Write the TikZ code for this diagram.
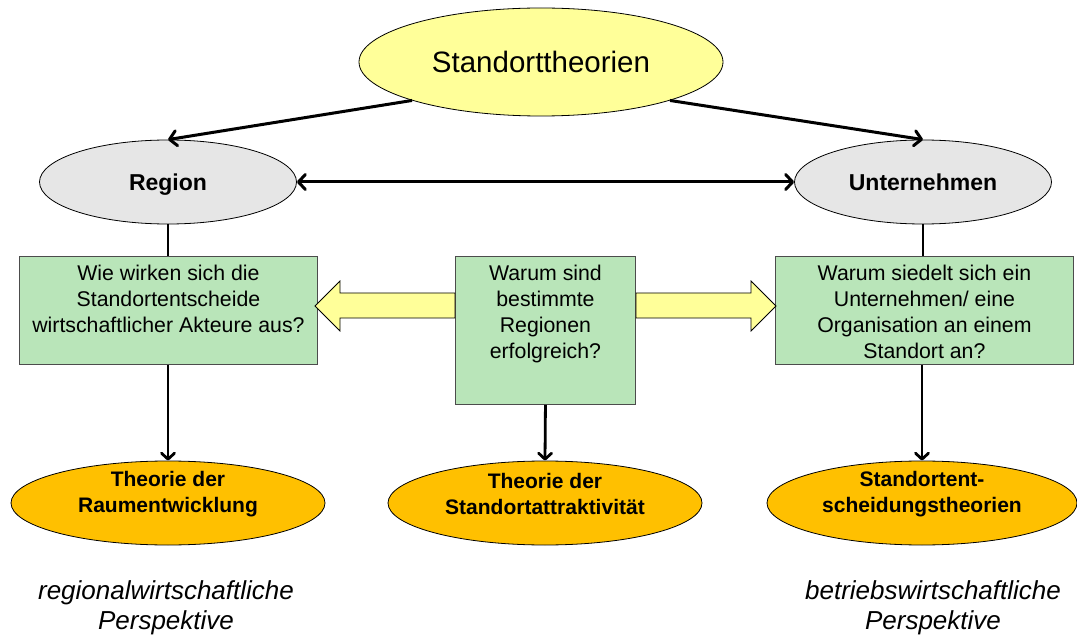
\documentclass[tikz,border=0pt]{standalone}
\usepackage{fontspec}
\setmainfont{Liberation Sans}
\usetikzlibrary{shapes.geometric,arrows.meta}
\definecolor{topyellow}{HTML}{FFFF99}
\definecolor{midgray}{HTML}{E6E6E6}
\definecolor{boxgreen}{HTML}{B9E5B9}
\definecolor{theoorange}{HTML}{FFC000}
\tikzset{
  ell/.style={ellipse, draw=black, line width=0.8pt, inner sep=0pt, align=center},
  topell/.style={ell, fill=topyellow, minimum width=364pt, minimum height=108pt, font=\fontsize{29.5}{34}\selectfont},
  grayell/.style={ell, fill=midgray, minimum width=257pt, minimum height=84pt, text height=17pt, text depth=0pt, font=\fontsize{23}{27}\selectfont\bfseries},
  orell/.style={ell, fill=theoorange, minimum width=314pt, minimum height=84pt},
  ortext/.style={align=center, inner sep=0pt, font=\fontsize{21}{26.5}\selectfont\bfseries},
  qbox/.style={draw=black!70, line width=0.9pt, fill=boxgreen, anchor=north west},
  qtext/.style={anchor=north, align=center, inner sep=0pt, font=\fontsize{21.3}{25.8}\selectfont},
  persp/.style={align=center, inner sep=0pt, font=\fontsize{26}{30}\selectfont\itshape},
  barb/.tip={Straight Barb[length=7pt,width=15pt,line width=3pt,round]},
  bigarrow/.style={-barb, line width=3pt},
  smallbarb/.tip={Straight Barb[length=6pt,width=13pt,line width=2.8pt,round]},
  downarrow/.style={-smallbarb, line width=2.8pt},
  blockarrow/.style={draw=black, line width=0.8pt, fill=topyellow},
}
\begin{document}
\begin{tikzpicture}[x=1pt,y=-1pt]
\useasboundingbox (0,0) rectangle (1077,639);
% top
\node[topell] (top) at (541,62) {Standorttheorien};
\node[grayell] (region) at (168,182) {Region};
\node[grayell] (unt) at (923,182) {Unternehmen};
% boxes
\node[qbox, minimum width=298pt, minimum height=108pt] (lbox) at (19,256) {};
\node[qbox, minimum width=180pt, minimum height=148pt] (cbox) at (455,256) {};
\node[qbox, minimum width=298pt, minimum height=108pt] (rbox) at (775,256) {};
\node[qtext] (ltext) at ([yshift=-9pt]lbox.north) {Wie wirken sich die\\Standortentscheide\\wirtschaftlicher Akteure aus?};
\node[qtext] (ctext) at ([yshift=-9pt]cbox.north) {Warum sind\\bestimmte\\Regionen\\erfolgreich?};
\node[qtext] (rtext) at ([yshift=-9pt]rbox.north) {Warum siedelt sich ein\\Unternehmen/ eine\\Organisation an einem\\Standort an?};
% block arrows
\draw[blockarrow] (cbox.west |- 0,293) -- (340,293) -- (340,281) -- (315,306) -- (340,331) -- (340,318) -- (cbox.west |- 0,318) -- cycle;
\draw[blockarrow] (cbox.east |- 0,293) -- (751,293) -- (751,281) -- (776,306) -- (751,331) -- (751,318) -- (cbox.east |- 0,318) -- cycle;
% bottom ellipses
\node[orell] (lth) at (168,503) {};
\node[orell] (cth) at (545,503) {};
\node[orell, minimum width=310pt] (rth) at (922,503) {};
\node[ortext] (lthtext) at (168,494) {Theorie der\\Raumentwicklung};
\node[ortext] (cthtext) at (545,494) {Theorie der\\Standortattraktivität};
\node[ortext] (rthtext) at (922,494) {Standortent-\\scheidungstheorien};
% perspectives
\node[persp] (lp) at (166,608) {regionalwirtschaftliche\\Perspektive};
\node[persp] (rp) at (933,608) {betriebswirtschaftliche\\Perspektive};
% connectors
\draw[bigarrow] (top.south west) -- (region.north);
\draw[bigarrow] (top.south east) -- (unt.north);
\draw[barb-barb, line width=3pt] (region.east) -- (unt.west);
\draw[line width=2.8pt] (region.south) -- (lbox.north -| region.south);
\draw[line width=2.8pt] (unt.south) -- (rbox.north -| unt.south);
\draw[downarrow] (lbox.south -| lth.north) -- (lth.north);
\draw[downarrow] (cbox.south) -- (cth.north);
\draw[downarrow] (rbox.south -| rth.north) -- (rth.north);
\end{tikzpicture}
\end{document}
